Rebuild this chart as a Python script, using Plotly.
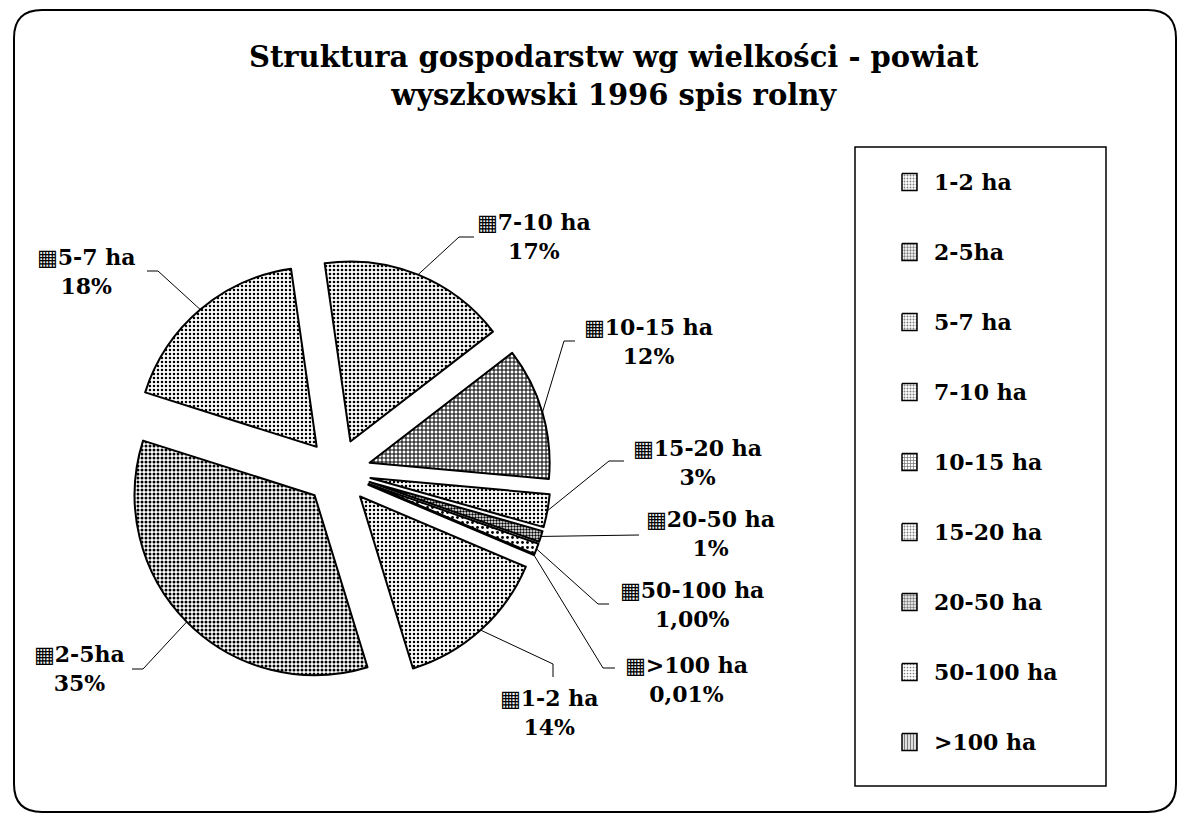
import numpy as np
import plotly.graph_objects as go

# ---- data -------------------------------------------------------------
categories = ["1-2 ha", "2-5ha", "5-7 ha", "7-10 ha", "10-15 ha",
              "15-20 ha", "20-50 ha", "50-100 ha", ">100 ha"]
shares = [14, 35, 18, 17, 12, 3, 1, 1, 0.01]
share_labels = ["14%", "35%", "18%", "17%", "12%", "3%", "1%", "1,00%", "0,01%"]
title_text = "Struktura gospodarstw wg wielkości - powiat<br>wyszkowski 1996 spis rolny"

# ---- styling ----------------------------------------------------------
pattern_shapes = [".", ".", ".", ".", "+", ".", ".", ".", "|"]
pattern_sizes = [4, 4, 4, 4, 4, 4, 3, 5, 3]
pattern_solidity = [0.3, 0.45, 0.32, 0.35, 0.45, 0.3, 0.5, 0.25, 0.5]

FONT = "DejaVu Serif"
MARK = '<span style="font-family:DejaVu Sans;font-weight:normal">▦</span>'
W, H = 1179, 817
CX, CY = 338, 472        # pie centre in page pixels
R = 180                  # pie radius in pixels
PULL = 0.183             # explode distance as a fraction of the radius
START = 113              # first slice starts here (deg clockwise from 12 o'clock)

# label placement: block centre and the elbow/end of its leader line
label_layout = {
    "1-2 ha":    dict(xy=(549, 712), path=[(553, 664), (553, 677)]),
    "2-5ha":     dict(xy=(79, 668),  path=[(143, 669), (132, 669)]),
    "5-7 ha":    dict(xy=(86, 271),  path=[(158, 271), (147, 271)]),
    "7-10 ha":   dict(xy=(534, 236), path=[(459, 237), (474, 237)]),
    "10-15 ha":  dict(xy=(648, 341), path=[(564, 341), (575, 341)]),
    "15-20 ha":  dict(xy=(697, 462), path=[(609, 461), (624, 461)]),
    "20-50 ha":  dict(xy=(710, 533), path=[(639, 535)]),
    "50-100 ha": dict(xy=(692, 604), path=[(598, 604), (609, 604)]),
    ">100 ha":   dict(xy=(686, 679), path=[(603, 668), (615, 668)]),
}

# legend box geometry
LEG_X0, LEG_X1, LEG_Y0, LEG_Y1 = 855, 1106, 147, 786
LEG_FIRST, LEG_STEP = 182, 70
SW_X0, SW_X1, SW_H = 902, 917, 17
LEG_TEXT_X = 932

# ---- pie --------------------------------------------------------------
half = R * (1 + PULL)
domain_x = [(CX - half) / W, (CX + half) / W]
domain_y = [(H - CY - half) / H, (H - CY + half) / H]

fig = go.Figure()

# leader lines start on the outer arc of each exploded slice, at its bisector
vals = np.asarray(shares, dtype=float)
frac = vals / vals.sum()
mid = np.deg2rad(START + 360 * (np.cumsum(frac) - frac / 2))
arc_x = CX + half * np.sin(mid)
arc_y = CY - half * np.cos(mid)

for i, cat in enumerate(categories):
    pts = [(arc_x[i], arc_y[i])] + label_layout[cat]["path"]
    fig.add_trace(go.Scatter(
        x=[p[0] for p in pts], y=[p[1] for p in pts],
        mode="lines", line=dict(color="black", width=1),
        hoverinfo="skip", showlegend=False))

fig.add_trace(go.Pie(
    labels=categories, values=shares, sort=False,
    direction="clockwise", rotation=START, pull=PULL,
    textinfo="none", hovertext=share_labels, hoverinfo="label+text",
    marker=dict(
        colors=["white"] * len(categories),
        line=dict(color="black", width=2),
        pattern=dict(shape=pattern_shapes, size=pattern_sizes,
                     solidity=pattern_solidity,
                     fgcolor="black", bgcolor="white"),
    ),
    domain=dict(x=domain_x, y=domain_y),
    showlegend=False,
))

# ---- legend (drawn by hand for the wide row spacing) -------------------
annotations = []
for i, cat in enumerate(categories):
    yc = LEG_FIRST + LEG_STEP * i
    y0, y1 = yc - SW_H / 2, yc + SW_H / 2
    fig.add_trace(go.Scatter(
        x=[SW_X0, SW_X1, SW_X1, SW_X0, SW_X0], y=[y0, y0, y1, y1, y0],
        mode="lines", fill="toself", fillcolor="white",
        fillpattern=dict(shape=pattern_shapes[i], size=3,
                         solidity=pattern_solidity[i],
                         fgcolor="black", bgcolor="white"),
        line=dict(color="black", width=1.5),
        hoverinfo="skip", showlegend=False))
    annotations.append(dict(
        x=LEG_TEXT_X, y=yc, xref="x", yref="y", xanchor="left", yanchor="middle",
        text=cat, showarrow=False,
        font=dict(family=FONT, size=22, color="black", weight="bold")))

# slice labels
for cat, lab in zip(categories, share_labels):
    lx, ly = label_layout[cat]["xy"]
    annotations.append(dict(
        x=lx, y=ly, xref="x", yref="y", xanchor="center", yanchor="middle",
        text=f"{MARK}{cat}<br>{lab}", showarrow=False, align="center",
        font=dict(family=FONT, size=22, color="black", weight="bold")))

# title
annotations.append(dict(
    x=614, y=76, xref="x", yref="y", xanchor="center", yanchor="middle",
    text=title_text, showarrow=False, align="center",
    font=dict(family=FONT, size=29, color="black", weight="bold")))

shapes = [
    dict(type="rect", xref="x", yref="y", x0=LEG_X0, x1=LEG_X1, y0=LEG_Y0, y1=LEG_Y1,
         line=dict(color="black", width=1.5), layer="below"),
    dict(type="path", xref="x", yref="y",
         path=("M 42,10 L 1148,10 Q 1176,10 1176,38 L 1176,784 Q 1176,812 1148,812 "
               "L 42,812 Q 14,812 14,784 L 14,38 Q 14,10 42,10 Z"),
         line=dict(color="black", width=2), layer="below"),
]

fig.update_layout(
    width=W, height=H, autosize=False,
    margin=dict(l=0, r=0, t=0, b=0),
    paper_bgcolor="white", plot_bgcolor="white",
    xaxis=dict(range=[0, W], visible=False, fixedrange=True),
    yaxis=dict(range=[H, 0], visible=False, fixedrange=True),
    annotations=annotations, shapes=shapes, showlegend=False,
)

fig.write_html("out.html")
